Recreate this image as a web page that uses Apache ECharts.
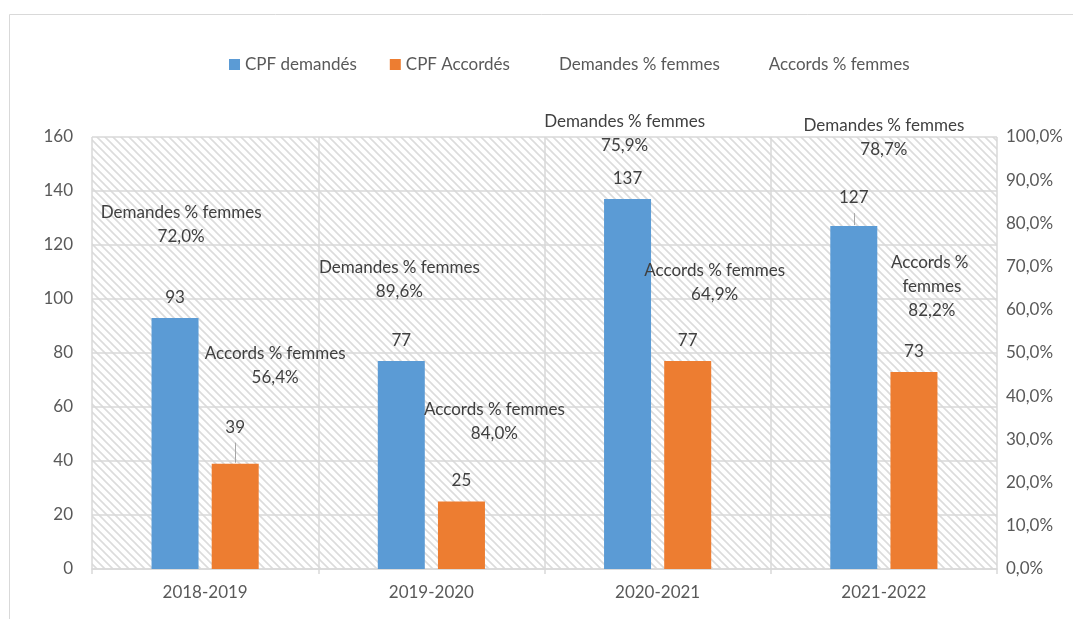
<!DOCTYPE html>
<html>
<head>
<meta charset="utf-8">
<script src="https://cdn.jsdelivr.net/npm/echarts@6/dist/echarts.min.js"></script>
<style>
  html, body { margin: 0; padding: 0; background: #fff; }
  #chart { width: 1073px; height: 619px; }
</style>
</head>
<body>
<div id="chart"></div>
<script>
var categories = ['2018-2019', '2019-2020', '2020-2021', '2021-2022'];
var cpfDemandes = [93, 77, 137, 127];
var cpfAccordes = [39, 25, 77, 73];
var demandesPctFemmes = [72.0, 89.6, 75.9, 78.7];
var accordsPctFemmes = [56.4, 84.0, 64.9, 82.2];

// label placement, moved by hand in the original workbook
var demandesLabelOffsets = [[-24, -33], [-32, 98], [-33, -108], [0, -92]];
var accordsLabelOffsets = [[70, 40], [63, 215], [57, -6], [48, 73]];
// bar value labels lifted above the bar (with a leader line)
var demandesLift = [0, 0, 0, -8];
var accordesLift = [-16, 0, 0, 0];

var textColor = '#595959';
var fontFamily = 'Lato, "Open Sans", sans-serif';

// diagonal hatch for the plot area
function hatchPattern() {
  var s = 8;
  var c = document.createElement('canvas');
  c.width = s;
  c.height = s;
  var ctx = c.getContext('2d');
  ctx.fillStyle = '#ffffff';
  ctx.fillRect(0, 0, s, s);
  ctx.strokeStyle = '#dcdcdc';
  ctx.lineWidth = 1.6;
  ctx.beginPath();
  ctx.moveTo(-1, -1); ctx.lineTo(s + 1, s + 1);
  ctx.moveTo(s - 1, -1); ctx.lineTo(s + 1, 1);
  ctx.moveTo(-1, s - 1); ctx.lineTo(1, s + 1);
  ctx.stroke();
  return { image: c, repeat: 'repeat' };
}

function pct(v) {
  return v.toFixed(1).replace('.', ',') + '%';
}

function pctItems(values, offsets, wrapIndex) {
  return values.map(function (v, i) {
    var item = { value: v, label: { offset: offsets[i] } };
    if (i === wrapIndex) {
      item.label.width = 90;
      item.label.overflow = 'break';
    }
    return item;
  });
}

function barItems(values, lifts) {
  return values.map(function (v, i) {
    var item = { value: v };
    if (lifts[i]) {
      item.label = { distance: 12 - lifts[i] };
    }
    return item;
  });
}

var chart = echarts.init(document.getElementById('chart'));

var pctLabel = {
  show: true,
  position: 'inside',
  color: '#404040',
  fontSize: 17,
  fontFamily: fontFamily,
  lineHeight: 24,
  align: 'center',
  verticalAlign: 'middle',
  formatter: function (p) {
    return p.seriesName + '\n' + pct(p.value);
  }
};

var barLabel = { show: true, position: 'top', distance: 12, color: '#404040', fontSize: 17 };

var frame = {
  id: 'frame',
  type: 'rect',
  shape: { x: 9.5, y: 14.5, width: 1100, height: 700 },
  style: { fill: 'none', stroke: '#d9d9d9', lineWidth: 1 },
  silent: true
};

chart.setOption({
  animation: false,
  textStyle: { fontFamily: fontFamily },
  graphic: [frame],
  legend: {
    top: 51,
    left: 224,
    itemWidth: 11,
    itemHeight: 11,
    itemGap: 33,
    textStyle: { color: textColor, fontSize: 17, fontFamily: fontFamily },
    data: [
      { name: 'CPF demandés', icon: 'rect' },
      { name: 'CPF Accordés', icon: 'rect' },
      { name: 'Demandes % femmes', icon: 'rect', itemStyle: { color: 'transparent' } },
      { name: 'Accords % femmes', icon: 'rect', itemStyle: { color: 'transparent' } }
    ]
  },
  grid: {
    left: 92,
    right: 76,
    top: 137,
    bottom: 50,
    show: true,
    borderWidth: 0,
    backgroundColor: hatchPattern()
  },
  xAxis: {
    type: 'category',
    data: categories,
    axisLine: { lineStyle: { color: '#d9d9d9', width: 1.5 } },
    axisTick: { show: true, length: 5, lineStyle: { color: '#d9d9d9', width: 1.5 } },
    splitLine: { show: true, lineStyle: { color: '#d9d9d9', width: 1.5 } },
    axisLabel: { color: textColor, fontSize: 17, margin: 15 }
  },
  yAxis: [{
    type: 'value',
    min: 0,
    max: 160,
    interval: 20,
    axisLine: { show: false },
    axisTick: { show: false },
    splitLine: { lineStyle: { color: '#d9d9d9', width: 1.5 } },
    axisLabel: { color: textColor, fontSize: 17, margin: 19 }
  }, {
    type: 'value',
    min: 0,
    max: 100,
    interval: 10,
    axisLine: { show: false },
    axisTick: { show: false },
    splitLine: { show: false },
    axisLabel: { color: textColor, fontSize: 17, margin: 9, formatter: pct }
  }],
  series: [{
    name: 'CPF demandés',
    type: 'bar',
    data: barItems(cpfDemandes, demandesLift),
    barWidth: 47,
    barGap: '28%',
    itemStyle: { color: '#5B9BD5' },
    label: barLabel
  }, {
    name: 'CPF Accordés',
    type: 'bar',
    data: barItems(cpfAccordes, accordesLift),
    barWidth: 47,
    itemStyle: { color: '#ED7D31' },
    label: barLabel
  }, {
    name: 'Demandes % femmes',
    type: 'line',
    yAxisIndex: 1,
    data: pctItems(demandesPctFemmes, demandesLabelOffsets, -1),
    symbol: 'circle',
    symbolSize: 1,
    itemStyle: { color: 'transparent' },
    lineStyle: { color: 'transparent', width: 0 },
    label: pctLabel,
    z: 5
  }, {
    name: 'Accords % femmes',
    type: 'line',
    yAxisIndex: 1,
    data: pctItems(accordsPctFemmes, accordsLabelOffsets, 3),
    symbol: 'circle',
    symbolSize: 1,
    itemStyle: { color: 'transparent' },
    lineStyle: { color: 'transparent', width: 0 },
    label: pctLabel,
    z: 5
  }]
});

// leader lines for the lifted bar labels
var graphics = [frame];
[[0, demandesLift, cpfDemandes], [1, accordesLift, cpfAccordes]].forEach(function (s) {
  s[1].forEach(function (lift, i) {
    if (!lift) return;
    var top = chart.convertToPixel({ xAxisIndex: 0, yAxisIndex: 0 }, [i, s[2][i]]);
    var barOffset = s[0] === 0 ? -30 : 30;
    var x = Math.round(top[0] + barOffset) + 0.5;
    graphics.push({
      id: 'leader' + s[0] + '_' + i,
      type: 'line',
      silent: true,
      z: 10,
      shape: { x1: x, y1: top[1] - 1, x2: x, y2: top[1] + lift - 5 },
      style: { stroke: '#a6a6a6', lineWidth: 1 }
    });
  });
});
chart.setOption({ graphic: graphics });
</script>
</body>
</html>
